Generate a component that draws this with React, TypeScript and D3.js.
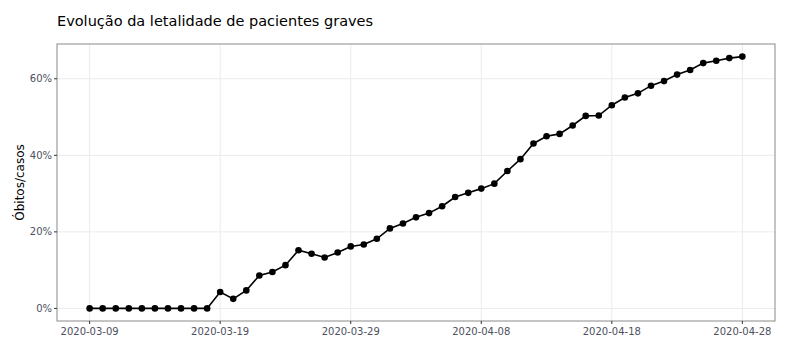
import React from "react";
import * as d3 from "d3";

const startDate = "2020-03-09";
const lethality: number[] = [
  0, 0, 0, 0, 0, 0, 0, 0, 0, 0,
  4.3, 2.5, 4.7, 8.6, 9.5, 11.3, 15.2, 14.3, 13.3, 14.6,
  16.2, 16.7, 18.2, 20.9, 22.2, 23.8, 24.9, 26.7, 29.1, 30.2,
  31.3, 32.6, 35.9, 39.0, 43.1, 45.0, 45.6, 47.8, 50.3, 50.4,
  53.1, 55.1, 56.2, 58.2, 59.4, 61.1, 62.3, 64.1, 64.7, 65.4,
  65.8,
];
const xTickLabels = ["2020-03-09", "2020-03-19", "2020-03-29", "2020-04-08", "2020-04-18", "2020-04-28"];
const yTicks = [0, 20, 40, 60];
const title = "Evolução da letalidade de pacientes graves";
const yTitle = "Óbitos/casos";

const W = 793, H = 352;
const M = { left: 57, right: 18, top: 44, bottom: 31 };

export default function App() {
  const parse = d3.utcParse("%Y-%m-%d");
  const t0 = parse(startDate)!;
  const data = lethality.map((v, i) => ({ date: d3.utcDay.offset(t0, i), v }));
  const xExt = d3.extent(data, d => d.date) as [Date, Date];
  const span = +xExt[1] - +xExt[0];
  const x = d3.scaleUtc()
    .domain([new Date(+xExt[0] - span * 0.05), new Date(+xExt[1] + span * 0.05)])
    .range([M.left, W - M.right]);
  const yMax = d3.max(lethality)!;
  const y = d3.scaleLinear()
    .domain([-yMax * 0.05, yMax * 1.05])
    .range([H - M.bottom, M.top]);
  const line = d3.line<{ date: Date; v: number }>().x(d => x(d.date)).y(d => y(d.v));
  const xTicks = xTickLabels.map(s => parse(s)!);
  const font = "'DejaVu Sans', Verdana, sans-serif";
  const x0 = M.left, x1 = W - M.right, y0 = M.top, y1 = H - M.bottom;

  return (
    <svg width={W} height={H} style={{ position: "absolute", left: 0, top: 0, background: "#fff" }}>
      <rect x={0} y={0} width={W} height={H} fill="#fff" />
      <text x={57} y={26} fontFamily={font} fontSize={14.5} fill="#000">{title}</text>
      {yTicks.map(t => (
        <line key={"gy" + t} x1={x0} x2={x1} y1={y(t)} y2={y(t)} stroke="#ebebeb" strokeWidth={1} />
      ))}
      {xTicks.map((t, i) => (
        <line key={"gx" + i} x1={x(t)} x2={x(t)} y1={y0} y2={y1} stroke="#ebebeb" strokeWidth={1} />
      ))}
      <path d={line(data) || ""} fill="none" stroke="#000" strokeWidth={1.6} />
      {data.map((d, i) => (
        <circle key={i} cx={x(d.date)} cy={y(d.v)} r={3.3} fill="#000" />
      ))}
      <rect x={x0} y={y0} width={x1 - x0} height={y1 - y0} fill="none" stroke="#8a8a8a" strokeWidth={1} />
      {yTicks.map(t => (
        <g key={"ty" + t}>
          <line x1={x0 - 3} x2={x0} y1={y(t)} y2={y(t)} stroke="#333" strokeWidth={1} />
          <text x={x0 - 5} y={y(t)} dy="0.35em" textAnchor="end" fontFamily={font} fontSize={10} fill="#4d5060">{t + "%"}</text>
        </g>
      ))}
      {xTicks.map((t, i) => (
        <g key={"tx" + i}>
          <line x1={x(t)} x2={x(t)} y1={y1} y2={y1 + 3} stroke="#333" strokeWidth={1} />
          <text x={x(t)} y={y1 + 14} textAnchor="middle" fontFamily={font} fontSize={10} fill="#4d5060">{xTickLabels[i]}</text>
        </g>
      ))}
      <text transform={`translate(24,${(y0 + y1) / 2}) rotate(-90)`} textAnchor="middle" fontFamily={font} fontSize={12} fill="#000">{yTitle}</text>
    </svg>
  );
}
